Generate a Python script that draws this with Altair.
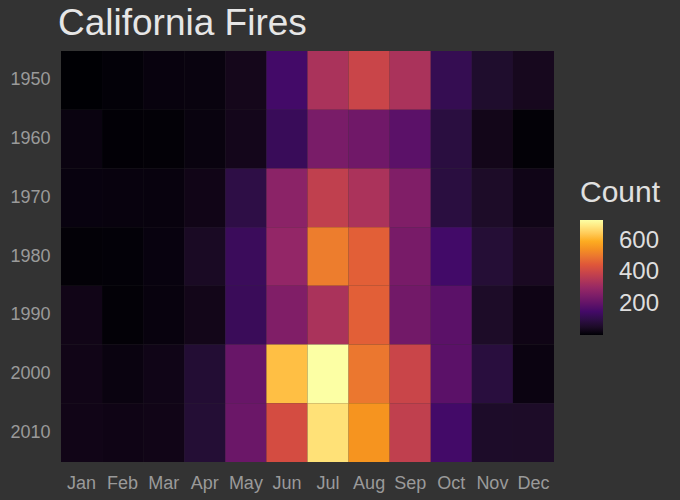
import altair as alt
import pandas as pd

months = ["Jan", "Feb", "Mar", "Apr", "May", "Jun", "Jul", "Aug", "Sep", "Oct", "Nov", "Dec"]
decades = ["1950", "1960", "1970", "1980", "1990", "2000", "2010"]

c1950 = [0, 4, 9, 11, 29, 148, 338, 400, 338, 115, 59, 34]
c1960 = [12, 2, 3, 11, 28, 125, 245, 228, 189, 88, 26, 3]
c1970 = [10, 9, 9, 22, 98, 279, 383, 340, 257, 88, 51, 21]
c1980 = [3, 4, 10, 44, 129, 294, 514, 463, 243, 147, 74, 41]
c1990 = [22, 3, 9, 25, 126, 257, 338, 463, 231, 190, 51, 19]
c2000 = [22, 12, 21, 70, 213, 630, 735, 504, 400, 190, 85, 13]
c2010 = [22, 19, 22, 72, 219, 423, 685, 556, 383, 148, 52, 51]

# ggplot's viridis "inferno" continuous scale: 6 anchor colours, Lab interpolation
palette = ["#000004", "#420A68", "#932667", "#DD513A", "#FCA50A", "#FCFFA4"]
vmin, vmax = 0, 735
stops = [vmin + (vmax - vmin) * i / 5 for i in range(6)]

rows = [c1950, c1960, c1970, c1980, c1990, c2000, c2010]
records = []
for d, vals in zip(decades, rows):
    for m, v in zip(months, vals):
        records.append({"decade": d, "month": m, "count": v})
df = pd.DataFrame(records)

FONT = "Liberation Sans"

chart = alt.Chart(df).mark_rect().encode(
    x=alt.X("month:N", sort=months,
            scale=alt.Scale(paddingInner=0, paddingOuter=0),
            axis=alt.Axis(title=None, labelAngle=0, ticks=False, domain=False, grid=False,
                          labelFontSize=18, labelColor="#9a9a9a", labelFont=FONT,
                          labelPadding=12)),
    y=alt.Y("decade:N", sort=decades,
            scale=alt.Scale(paddingInner=0, paddingOuter=0),
            axis=alt.Axis(title=None, ticks=False, domain=False, grid=False,
                          labelFontSize=18, labelColor="#9a9a9a", labelFont=FONT,
                          labelPadding=11)),
    color=alt.Color("count:Q",
                    scale=alt.Scale(domain=stops, range=palette, interpolate="lab"),
                    legend=alt.Legend(title="Count", orient="none", legendX=519, legendY=127,
                                      direction="vertical", gradientLength=115,
                                      gradientThickness=23, gradientStrokeWidth=0,
                                      values=[200, 400, 600],
                                      titleFontSize=30, titleFont=FONT, titleColor="#e0e0e0",
                                      titleFontWeight="normal", titlePadding=12,
                                      labelFontSize=24, labelFont=FONT, labelColor="#dedede",
                                      labelOffset=16)),
).properties(
    width=493,
    height=411,
    title=alt.TitleParams("California Fires", anchor="start", frame="group", fontSize=37,
                          font=FONT, color="#e6e6e6", fontWeight="normal", dx=-3, offset=8),
    padding={"left": 61, "top": 51, "right": 126, "bottom": 38},
    autosize=alt.AutoSizeParams(type="none"),
    background="#333333",
).configure_view(stroke=None)

# dark page with no margin, so the chart fills the whole 680x500 window
try:
    from altair.utils import html as _alt_html
    _tmpl = _alt_html.TEMPLATES["standard"]
    _orig_render = _tmpl.render

    def _render(*args, **kwargs):
        out = _orig_render(*args, **kwargs)
        return out.replace(
            "<head>",
            "<head>\n<style>html, body { background: #333333; margin: 0; padding: 0; }</style>",
            1,
        )

    _tmpl.render = _render
except Exception:
    pass

chart.save("out.html", embed_options={"renderer": "svg", "actions": False})
